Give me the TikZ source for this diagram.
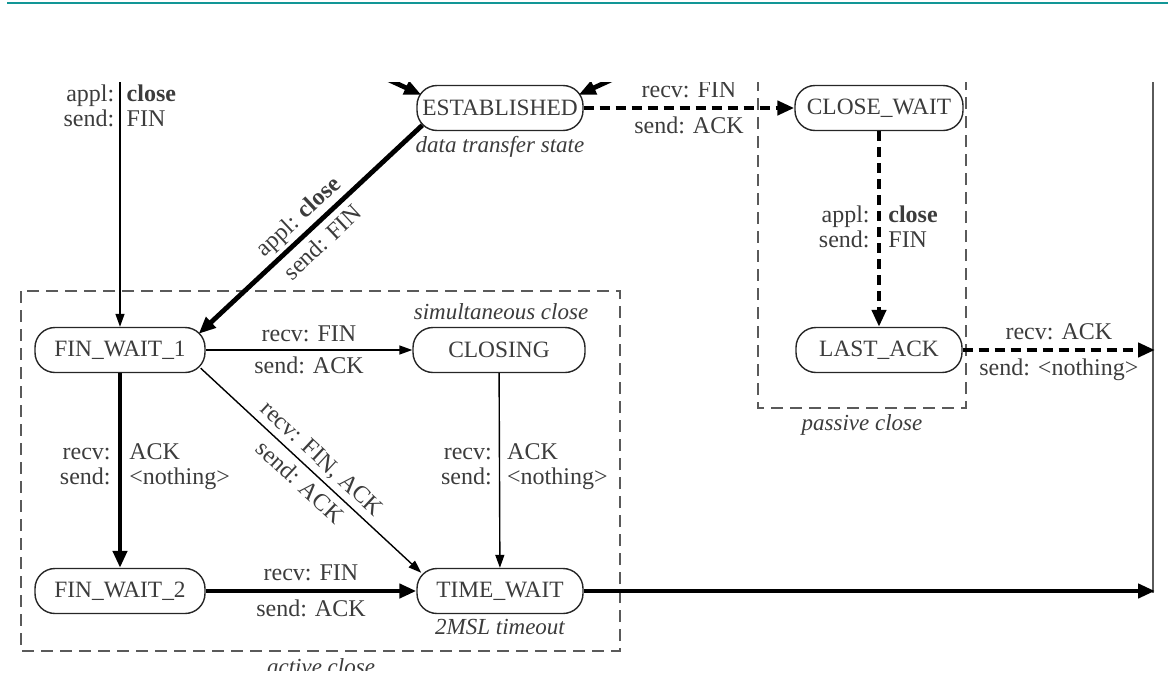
\documentclass[tikz,border=0pt]{standalone}
\usepackage{fontspec}
\setmainfont{Liberation Serif}
\usetikzlibrary{arrows.meta}

\definecolor{headrule}{RGB}{18,150,150}
\definecolor{inkgray}{RGB}{60,60,60}
\definecolor{zonegray}{RGB}{90,90,90}

\begin{document}
\begin{tikzpicture}[x=0.5pt,y=-0.5pt,
  state/.style={draw=black!85,line width=0.7pt,rounded corners=10pt,minimum height=22.5pt,inner sep=0pt,text=inkgray,font=\fontsize{11.7}{12}\selectfont},
  lbl/.style={text=inkgray,font=\fontsize{12}{12.5}\selectfont,inner sep=1pt,text height=8.5pt,text depth=0pt},
  pair/.style={text=inkgray,font=\fontsize{12}{12.5}\selectfont,inner sep=1pt},
  note/.style={text=inkgray,font=\fontsize{11.5}{13}\selectfont\itshape,inner sep=0pt},
  thinarrow/.style={line width=0.7pt,-{Triangle[length=6.5pt,width=4.5pt]}},
  thickarrow/.style={line width=2.4pt,-{Triangle[length=8.5pt,width=7pt]}},
  dasharrow/.style={thickarrow,dash pattern=on 5pt off 3pt},
  zone/.style={draw=zonegray,line width=0.8pt,dash pattern=on 6pt off 3.5pt}]
\useasboundingbox (0,0) rectangle (1168,686);
\draw[headrule,line width=1pt] (7,2.5) -- (1168,2.5);
\begin{scope}
\clip (0,82) rectangle (1168,670);
% states
\node[state,minimum width=83pt] (est) at (500,108) {ESTABLISHED};
\node[state,minimum width=84pt] (cw) at (879,108) {CLOSE\_WAIT};
\node[state,minimum width=83pt] (la) at (879,350) {LAST\_ACK};
\node[state,minimum width=85pt] (fw1) at (120,350) {FIN\_WAIT\_1};
\node[state,minimum width=86pt] (cl) at (499,350) {CLOSING};
\node[state,minimum width=85pt] (fw2) at (120,591) {FIN\_WAIT\_2};
\node[state,minimum width=83pt] (tw) at (500,591) {TIME\_WAIT};
% notes
\node[note] (est note) at (500,147) {data transfer state};
\node[note] (sim note) at (501,312) {simultaneous close};
\node[note] (tw note) at (500,627) {2MSL timeout};
\node[note] (pas note) at (862,425) {passive close};
\node[note] (act note) at (321,667) {active close};
% dashed groups
\draw[zone] (21,291) rectangle (620,651);
\draw[zone] (758,60) -- (758,408) -- (966,408) -- (966,60);
% free ends
\coordinate (top in) at (120,60);
\coordinate (from left) at (350,62);
\coordinate (from right) at (650,62);
\coordinate (rail top) at (1153,60);
\coordinate (rail bot) at (1153,593);
\coordinate (out la) at (1155,350);
\coordinate (out tw) at (1155,591);
\draw[line width=0.8pt,zonegray] (rail top) -- (rail bot);
% into ESTABLISHED
\draw[thickarrow] (from left) -- ([shift={(5,10)}]est.north west);
\draw[thickarrow] (from right) -- ([shift={(-5,10)}]est.north east);
% active close
\draw[thinarrow] (top in) -- (fw1.north)
  node[pair,pos=0.17,left=1.5pt,align=right] (a0) {appl:\\send:}
  node[pair,pos=0.17,right=2pt,align=left] (b0) {\textbf{close}\\FIN};
\draw[thickarrow] ([shift={(6,-6)}]est.south west) -- ([shift={(-7,7)}]fw1.north east)
  node[lbl,midway,sloped,above=3pt] (a1) {appl: \textbf{close}}
  node[lbl,midway,sloped,below=2pt] (b1) {send: FIN};
\draw[thinarrow] (fw1) -- (cl)
  node[lbl,midway,above=3pt] (a2) {recv: FIN}
  node[lbl,midway,below=2pt] (b2) {send: ACK};
\draw[thickarrow] (fw1) -- (fw2)
  node[pair,pos=0.48,left=2.5pt,align=right] (a3) {recv:\\send:}
  node[pair,pos=0.48,right=2.5pt,align=left] (b3) {ACK\\<nothing>};
\draw[thinarrow] ([shift={(-5,-5)}]fw1.south east) -- ([shift={(5,5)}]tw.north west)
  node[lbl,midway,sloped,above=3pt] (a4) {recv: FIN, ACK}
  node[lbl,midway,sloped,below=2pt] (b4) {send: ACK};
\draw[thinarrow] (cl) -- (tw)
  node[pair,pos=0.48,left=2.5pt,align=right] (a5) {recv:\\send:}
  node[pair,pos=0.48,right=2.5pt,align=left] (b5) {ACK\\<nothing>};
\draw[thickarrow] (fw2) -- (tw)
  node[lbl,midway,above=3pt] (a6) {recv: FIN}
  node[lbl,midway,below=2pt] (b6) {send: ACK};
\draw[thickarrow] (tw) -- (out tw);
% passive close
\draw[dasharrow] (est) -- (cw)
  node[lbl,midway,above=3pt] (a7) {recv: FIN}
  node[lbl,midway,below=2pt] (b7) {send: ACK};
\draw[dasharrow] (cw) -- (la)
  node[pair,pos=0.49,left=2.5pt,align=right] (a8) {appl:\\send:}
  node[pair,pos=0.49,right=2.5pt,align=left] (b8) {\textbf{close}\\FIN};
\draw[dasharrow] (la) -- (out la)
  node[lbl,midway,above=3pt] (a9) {recv: ACK}
  node[lbl,midway,below=2pt] (b9) {send: <nothing>};
\end{scope}
\end{tikzpicture}
\end{document}
